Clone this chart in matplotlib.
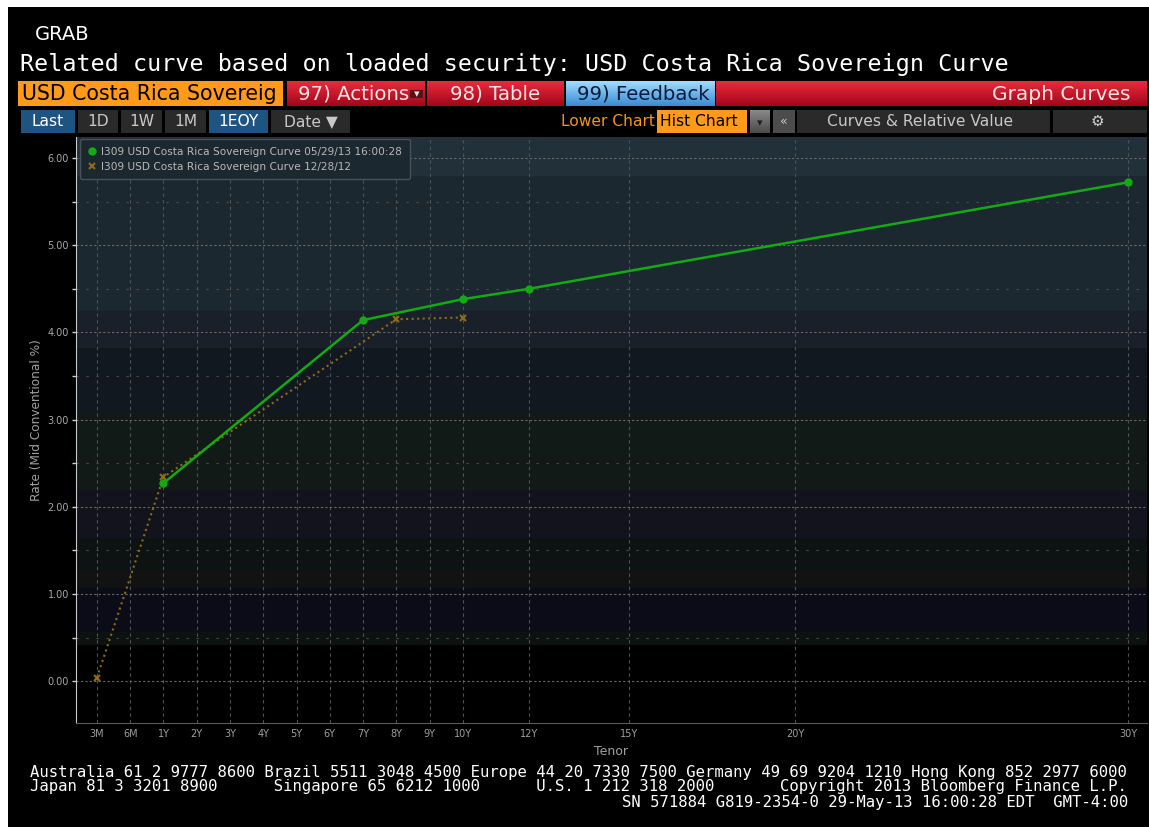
import numpy as np
import matplotlib
matplotlib.use('Agg')
import matplotlib.pyplot as plt
from matplotlib import font_manager
from matplotlib.patches import Rectangle
from matplotlib.lines import Line2D
from matplotlib.colors import LinearSegmentedColormap

# --- values ---
tenor_labels = ['3M', '6M', '1Y', '2Y', '3Y', '4Y', '5Y', '6Y', '7Y', '8Y',
                '9Y', '10Y', '12Y', '15Y', '20Y', '30Y']
tenor_years = [0.25, 0.5, 1, 2, 3, 4, 5, 6, 7, 8, 9, 10, 12, 15, 20, 30]

cur_years = [1, 7, 10, 12, 30]
cur_rates = [2.27, 4.14, 4.38, 4.50, 5.72]
cur_label = 'I309 USD Costa Rica Sovereign Curve 05/29/13 16:00:28'

old_years = [0.25, 1, 8, 10]
old_rates = [0.04, 2.34, 4.15, 4.17]
old_label = 'I309 USD Costa Rica Sovereign Curve 12/28/12'

rate_ticks = [0, 1, 2, 3, 4, 5, 6]

footer_lines = [
    'Australia 61 2 9777 8600 Brazil 5511 3048 4500 Europe 44 20 7330 7500 Germany 49 69 9204 1210 Hong Kong 852 2977 6000',
    'Japan 81 3 3201 8900      Singapore 65 6212 1000      U.S. 1 212 318 2000       Copyright 2013 Bloomberg Finance L.P.',
]
footer_last = 'SN 571884 G819-2354-0 29-May-13 16:00:28 EDT  GMT-4:00'

# narrow UI font if there is one
_names = {f.name for f in font_manager.fontManager.ttflist}
if 'Liberation Sans Narrow' in _names:
    UI, k = 'Liberation Sans Narrow', 1.25
else:
    UI, k = 'DejaVu Sans', 1.0
MONO = 'DejaVu Sans Mono'

W, H = 1149, 827
fig = plt.figure(figsize=(W / 100, H / 100), dpi=100, facecolor='white')

# screen furniture drawn in pixel coordinates
bg = fig.add_axes([0, 0, 1, 1])
bg.set_xlim(0, W)
bg.set_ylim(H, 0)
bg.axis('off')
bg.set_autoscale_on(False)
bg.add_patch(Rectangle((8, 7), W - 8, H - 7, color='black', lw=0, zorder=0))


def box(x0, x1, y0, y1, color):
    bg.add_patch(Rectangle((x0, y0), x1 - x0, y1 - y0, color=color, lw=0, zorder=1))


def grad_box(x0, x1, y0, y1, top, bottom):
    cm = LinearSegmentedColormap.from_list('g', [top, bottom])
    g = np.linspace(0, 1, 40)[:, None]
    bg.imshow(g, extent=(x0, x1, y1, y0), cmap=cm, aspect='auto',
              interpolation='bilinear', zorder=1)


bg.text(35, 35, 'GRAB', color='white', fontsize=14 * k, family=UI, va='center')
bg.text(20, 64, 'Related curve based on loaded security: USD Costa Rica Sovereign Curve',
        color='white', fontsize=16.8, family=MONO, va='center')

# row of big buttons
box(18, 283, 81, 106, '#ff9a1a')
bg.text(22, 94, 'USD Costa Rica Sovereig', color='black', fontsize=14.8 * k, family=UI,
        va='center', zorder=3)
red_top, red_bot = '#ea2a3e', '#a3061a'
grad_box(287, 425, 81, 106, red_top, red_bot)
grad_box(427, 564, 81, 106, red_top, red_bot)
grad_box(566, 715, 81, 106, '#a2dbff', '#3a8bd2')
grad_box(716, 1147, 81, 106, red_top, red_bot)
big = 14.2 * k
bg.text(298, 94, '97) Actions', color='#f6e6e6', fontsize=big, family=UI, va='center', zorder=3)
box(410, 423, 90, 98, '#5a1018')
bg.text(416.5, 94, '▾', color='#e0e0e0', fontsize=8, family='DejaVu Sans', va='center',
        ha='center', zorder=3)
bg.text(450, 94, '98) Table', color='#f6e6e6', fontsize=big, family=UI, va='center', zorder=3)
bg.text(577, 94, '99) Feedback', color='#0c1c3c', fontsize=big, family=UI, va='center', zorder=3)
bg.text(1131, 95, 'Graph Curves', color='#f6e6e6', fontsize=14.5 * k, family=UI,
        va='center', ha='right', zorder=3)

# row of small buttons
mid = 11.2 * k
small = [('Last', 21, 75, '#1e5482', 'white'), ('1D', 78, 118, '#2a2a2a', '#c8c8c8'),
         ('1W', 121, 162, '#2a2a2a', '#c8c8c8'), ('1M', 165, 206, '#2a2a2a', '#c8c8c8'),
         ('1EOY', 209, 268, '#1e5482', 'white'), ('Date ▼', 271, 350, '#2a2a2a', '#c8c8c8')]
for name, x0, x1, fc, tc in small:
    box(x0, x1, 110, 133, fc)
    bg.text((x0 + x1) / 2, 122, name, color=tc, fontsize=mid,
            family=[UI, 'DejaVu Sans'], ha='center', va='center', zorder=3)

bg.text(561, 121, 'Lower Chart', color='#f0951e', fontsize=mid, family=UI, va='center')
box(657, 747, 110, 133, '#ff9a1a')
bg.text(660, 121, 'Hist Chart', color='black', fontsize=mid, family=UI, va='center', zorder=3)
grad_box(750, 770, 110, 133, '#8a8a8a', '#4a4a4a')
bg.text(760, 123, '▾', color='#202020', fontsize=8, family='DejaVu Sans', ha='center',
        va='center', zorder=3)
box(773, 795, 110, 133, '#4c4c4c')
bg.text(784, 121, '«', color='#cccccc', fontsize=9, family='DejaVu Sans', ha='center',
        va='center', zorder=3)
box(797, 1050, 110, 133, '#2a2a2a')
bg.text(920, 121, 'Curves & Relative Value', color='#c8c8c8', fontsize=mid,
        family=UI, ha='center', va='center', zorder=3)
box(1053, 1147, 110, 133, '#2a2a2a')
bg.text(1097, 121, '⚙', color='#d0d0d0', fontsize=11, family='DejaVu Sans', ha='center',
        va='center', zorder=3)

for i, line in enumerate(footer_lines):
    bg.text(30, 772 + 15 * i, line, color='white', fontsize=11.22, family=MONO,
            ha='left', va='center')
bg.text(1128, 802, footer_last, color='white', fontsize=11.22, family=MONO,
        ha='right', va='center')

# --- the curve chart ---
ax = fig.add_axes([76 / W, 1 - 723 / H, (1147 - 76) / W, (723 - 137) / H])
ax.set_facecolor('black')

# Bloomberg tenor axis: 3M, 6M, 1Y evenly spaced, then linear in years
knot_yr = np.array([-10, 0.25, 0.5, 1, 100])
knot_px = np.array([-41, 0, 1, 2, 101])
ax.set_xscale('function', functions=(lambda v: np.interp(v, knot_yr, knot_px),
                                     lambda v: np.interp(v, knot_px, knot_yr)))
ax.set_xlim(0.0925, 30.57)
ax.set_ylim(-0.48, 6.24)

# banded background
band_edges = [6.24, 5.79, 4.25, 3.82, 3.07, 2.19, 1.64, 1.28, 1.07, 0.56, 0.41, -0.48]
band_colors = ['#22303a', '#1b2830', '#1a2029', '#111820', '#121a17', '#13131d',
               '#0d1212', '#121212', '#0c0c18', '#0b1210', '#000000']
for top, bot, c in zip(band_edges[:-1], band_edges[1:], band_colors):
    ax.axhspan(bot, top, color=c, lw=0, zorder=0)

for t in tenor_years:
    ax.axvline(t, color='#4c5258', lw=0.8, ls=(0, (3, 3)), zorder=1)
for r in np.arange(0, 6.01, 0.5):
    if r % 1 == 0:
        ax.axhline(r, color='#686868', lw=0.8, ls=(0, (2, 2)), zorder=1)
    else:
        ax.axhline(r, color='#4e4e4e', lw=0.8, ls=(0, (2, 7)), zorder=1)

green = '#14aa14'
orange = '#8e6c16'
ax.plot(old_years, old_rates, color=orange, lw=1.5, ls=':', marker='x', ms=4,
        mew=1.5, zorder=3)
ax.plot(cur_years, cur_rates, color=green, lw=1.8, marker='o', ms=5, zorder=4)

ax.set_xticks(tenor_years)
ax.set_xticklabels(tenor_labels)
ax.set_xticks([], minor=True)
ax.set_yticks(rate_ticks)
ax.set_yticklabels(['%.2f' % v for v in rate_ticks])
ax.set_yticks(np.arange(-0.0, 6.01, 0.5), minor=True)
ax.tick_params(axis='x', length=0, pad=4, labelsize=7, labelcolor='#a0a0a0')
ax.tick_params(axis='y', which='both', length=3, width=1, color='#d0d0d0',
               pad=2, labelsize=7, labelcolor='#a8a8a8')

ax.set_xlabel('Tenor', color='#a0a0a0', fontsize=9)
ax.xaxis.set_label_coords(0.4995, -0.0375)
ax.set_ylabel('Rate (Mid Conventional %)', color='#a0a0a0', fontsize=8.7)
ax.yaxis.set_label_coords(-0.031, 0.517)

for s in ('top', 'right'):
    ax.spines[s].set_visible(False)
ax.spines['left'].set_color('#c8c8c8')
ax.spines['bottom'].set_color('#5a5a5a')

handles = [Line2D([], [], ls='none', marker='o', ms=5, color=green),
           Line2D([], [], ls='none', marker='x', ms=4, mew=1.5, color=orange)]
leg = ax.legend(handles, [cur_label, old_label], loc='upper left',
                bbox_to_anchor=(0.004, 0.996), borderaxespad=0, fontsize=7.6,
                labelcolor='#b8b8b8', facecolor='#1c2830', edgecolor='#45525c',
                framealpha=1, handlelength=0.8, handletextpad=0.5,
                borderpad=0.7, labelspacing=0.5)
leg.set_zorder(6)

fig.savefig('out.png', dpi=100, facecolor='white')
